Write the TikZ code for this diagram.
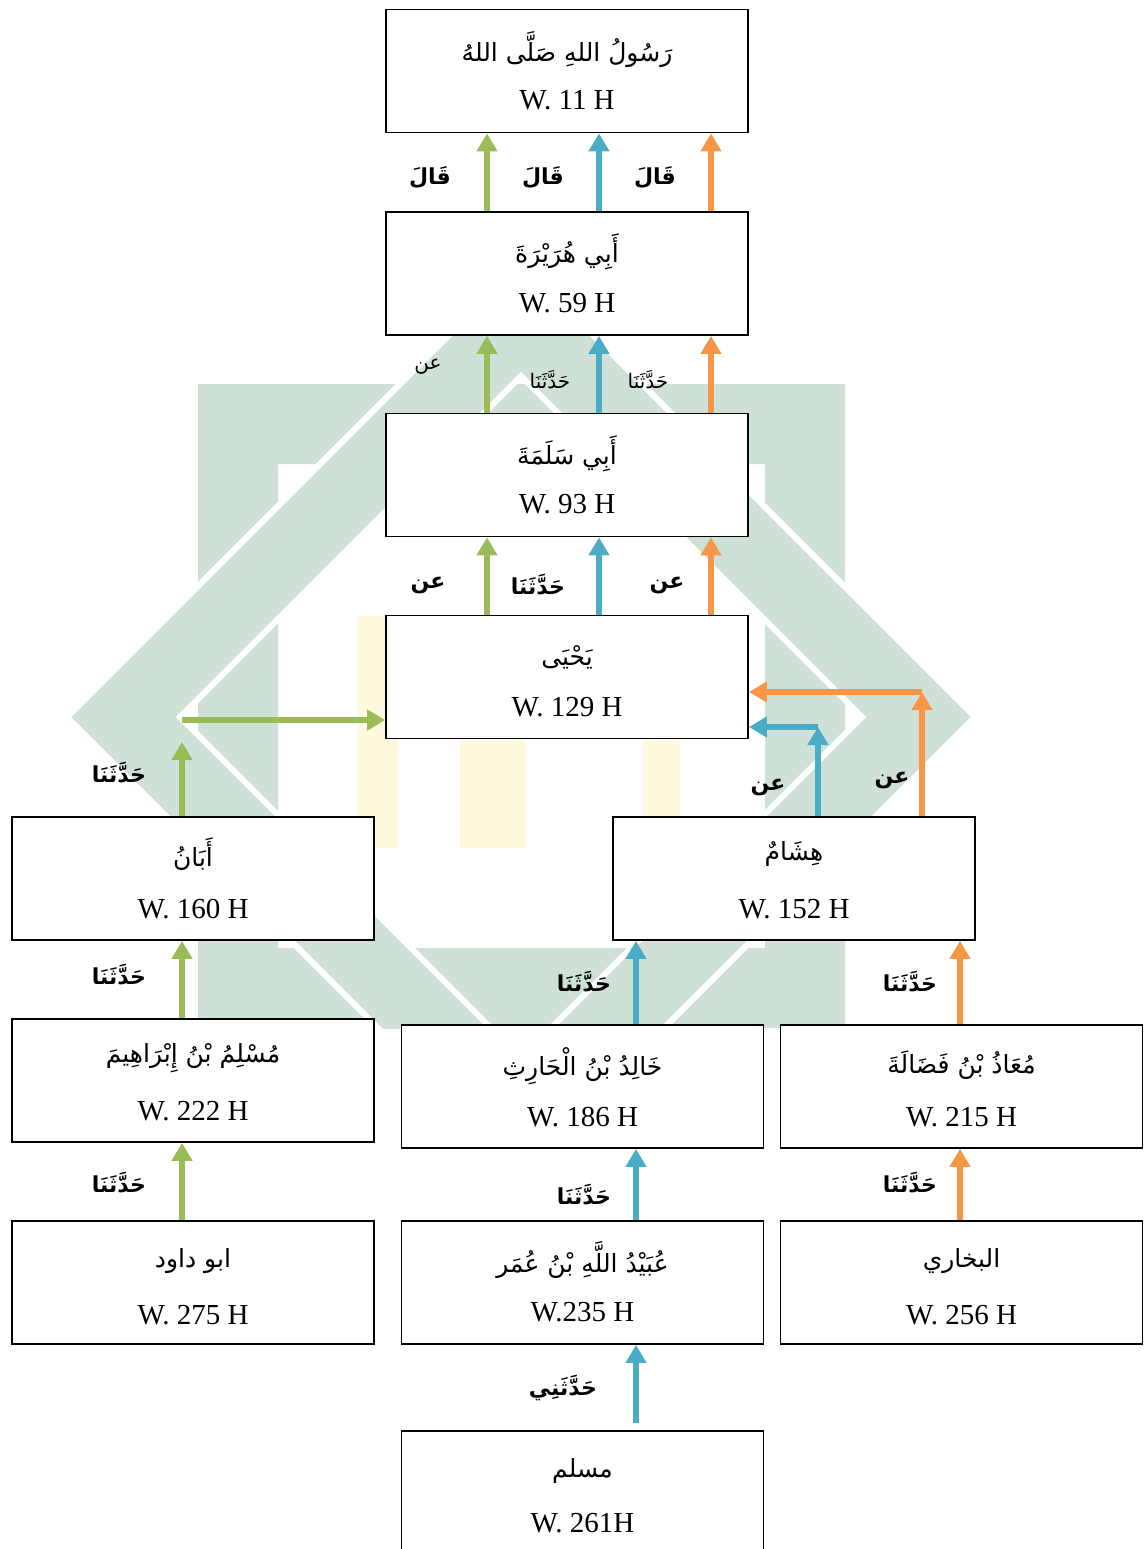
\documentclass[tikz,border=0pt]{standalone}
\usepackage{fontspec}
\setmainfont{Liberation Serif}
\newfontfamily\arabicfont[Script=Arabic]{DejaVu Sans}
\TeXXeTstate=1
\usetikzlibrary{arrows.meta,calc}
\definecolor{cgreen}{RGB}{155,187,89}
\definecolor{cblue}{RGB}{75,172,198}
\definecolor{corange}{RGB}{247,150,70}
\definecolor{wmgreen}{RGB}{207,225,215}
\definecolor{wmyellow}{RGB}{255,250,222}
\newcommand{\artxt}[1]{{\arabicfont\beginR #1\endR}}
\newcommand{\arbold}[1]{{\arabicfont\bfseries\beginR #1\endR}}
\begin{document}
\begin{tikzpicture}[x=1pt,y=-1pt,
  namebox/.style={draw=black,line width=1.8pt,minimum width=362pt,minimum height=123pt,inner sep=0pt,fill=white},
  arname/.style={inner sep=0pt,font=\fontsize{25}{30}\selectfont},
  wname/.style={inner sep=0pt,font=\fontsize{29}{34}\selectfont},
  blab/.style={inner sep=0pt,font=\fontsize{22}{26}\selectfont},
  slab/.style={inner sep=0pt,font=\fontsize{20}{24}\selectfont},
  arrbase/.style={line width=6pt,-{Triangle[width=20pt,length=18pt]}},
  garr/.style={arrbase,draw=cgreen},
  barr/.style={arrbase,draw=cblue},
  oarr/.style={arrbase,draw=corange}]
\useasboundingbox (0,0) rectangle (1145,1549);
\clip (0,0) rectangle (1145,1549);
% watermark
\begin{scope}
  \clip (0,330) rectangle (1145,1028);
  \fill[wmgreen,even odd rule] (198,384) rectangle (845,1028) (278,464) rectangle (765,948);
  \filldraw[fill=wmgreen,draw=white,line width=6pt,even odd rule]
    (67,717) -- (521,263) -- (975,717) -- (521,1171) -- cycle
    (180,717) -- (521,376) -- (862,717) -- (521,1058) -- cycle;
  \fill[wmyellow] (358,616) rectangle (398,848);
  \fill[wmyellow] (460,740) rectangle (526,848);
  \fill[wmyellow] (643,740) rectangle (680,848);
\end{scope}
% boxes
\node[namebox] (b1) at (567,71) {};
\node[namebox] (b2) at (567,273.5) {};
\node[namebox] (b3) at (567,475) {};
\node[namebox] (b4) at (567,677) {};
\node[namebox] (b5) at (193,878.5) {};
\node[namebox] (b6) at (794,878.5) {};
\node[namebox] (b7) at (193,1080.5) {};
\node[namebox] (b8) at (582.5,1086.5) {};
\node[namebox] (b9) at (961.5,1086.5) {};
\node[namebox] (b10) at (193,1282.5) {};
\node[namebox] (b11) at (582.5,1282.5) {};
\node[namebox] (b12) at (961.5,1282.5) {};
\node[namebox,minimum height=124pt] (b13) at (582.5,1493) {};
% names
\node[arname] (t1a) at ($(b1.north)+(0,41)$) {\artxt{رَسُولُ اللهِ صَلَّى اللهُ}};
\node[wname] (t1w) at ($(b1.north)+(0,92)$) {W. 11 H};
\node[arname] (t2a) at ($(b2.north)+(0,41)$) {\artxt{أَبِي هُرَيْرَةَ}};
\node[wname] (t2w) at ($(b2.north)+(0,92)$) {W. 59 H};
\node[arname] (t3a) at ($(b3.north)+(0,41)$) {\artxt{أَبِي سَلَمَةَ}};
\node[wname] (t3w) at ($(b3.north)+(0,92)$) {W. 93 H};
\node[arname] (t4a) at ($(b4.north)+(0,43)$) {\artxt{يَحْيَى}};
\node[wname] (t4w) at ($(b4.north)+(0,93)$) {W. 129 H};
\node[arname] (t5a) at ($(b5.north)+(0,38)$) {\artxt{أَبَانُ}};
\node[wname] (t5w) at ($(b5.north)+(0,93)$) {W. 160 H};
\node[arname] (t6a) at ($(b6.north)+(0,38)$) {\artxt{هِشَامٌ}};
\node[wname] (t6w) at ($(b6.north)+(0,93)$) {W. 152 H};
\node[arname] (t7a) at ($(b7.north)+(0,40)$) {\artxt{مُسْلِمُ بْنُ إِبْرَاهِيمَ}};
\node[wname] (t7w) at ($(b7.north)+(0,93)$) {W. 222 H};
\node[arname] (t8a) at ($(b8.north)+(0,42)$) {\artxt{خَالِدُ بْنُ الْحَارِثِ}};
\node[wname] (t8w) at ($(b8.north)+(0,93)$) {W. 186 H};
\node[arname] (t9a) at ($(b9.north)+(0,41)$) {\artxt{مُعَاذُ بْنُ فَضَالَةَ}};
\node[wname] (t9w) at ($(b9.north)+(0,93)$) {W. 215 H};
\node[arname] (t10a) at ($(b10.north)+(0,41)$) {\artxt{ابو داود}};
\node[wname] (t10w) at ($(b10.north)+(0,95)$) {W. 275 H};
\node[arname] (t11a) at ($(b11.north)+(0,40)$) {\artxt{عُبَيْدُ اللَّهِ بْنُ عُمَر}};
\node[wname] (t11w) at ($(b11.north)+(0,92)$) {W.235 H};
\node[arname] (t12a) at ($(b12.north)+(0,41)$) {\artxt{البخاري}};
\node[wname] (t12w) at ($(b12.north)+(0,95)$) {W. 256 H};
\node[arname] (t13a) at ($(b13.north)+(0,41)$) {\artxt{مسلم}};
\node[wname] (t13w) at ($(b13.north)+(0,93)$) {W. 261H};
% arrow columns
\coordinate (gx) at (487,0);
\coordinate (bx) at (599,0);
\coordinate (ox) at (711,0);
\coordinate (lx) at (182,0);
\coordinate (mx) at (636,0);
\coordinate (rx) at (960,0);
\foreach \lo/\hi in {b2/b1,b3/b2,b4/b3}{
  \draw[garr] (\lo.north -| gx) -- (\hi.south -| gx);
  \draw[barr] (\lo.north -| bx) -- (\hi.south -| bx);
  \draw[oarr] (\lo.north -| ox) -- (\hi.south -| ox);
}
% Aban -> Yahya
\coordinate (ga) at (182,742);
\coordinate (gb) at (182,720);
\draw[garr] (b5.north -| lx) -- (ga);
\draw[garr] (gb) -- (b4.west |- gb);
% Hisyam -> Yahya
\coordinate (cb) at (818,727);
\coordinate (co) at (922,692);
\draw[barr] (b6.north -| cb) -- (cb);
\draw[barr] (cb) -- (b4.east |- cb);
\draw[oarr] (b6.north -| co) -- (co);
\draw[oarr] (co) -- (b4.east |- co);
% lower chains
\draw[garr] (b7.north -| lx) -- (b5.south -| lx);
\draw[garr] (b10.north -| lx) -- (b7.south -| lx);
\draw[barr] (b8.north -| mx) -- (b6.south -| mx);
\draw[barr] (b11.north -| mx) -- (b8.south -| mx);
\draw[barr] ($(b13.north -| mx)+(0,-7)$) -- (b11.south -| mx);
\draw[oarr] (b9.north -| rx) -- (b6.south -| rx);
\draw[oarr] (b12.north -| rx) -- (b9.south -| rx);
% labels
\node[blab] (l1) at (430,178) {\arbold{قَالَ}};
\node[blab] (l2) at (543,178) {\arbold{قَالَ}};
\node[blab] (l3) at (655,178) {\arbold{قَالَ}};
\node[slab] (l4) at (428,367) {\artxt{عن}};
\node[slab] (l5) at (550,380) {\artxt{حَدَّثَنَا}};
\node[slab] (l6) at (648,380) {\artxt{حَدَّثَنَا}};
\node[blab] (l7) at (428,585) {\arbold{عن}};
\node[blab] (l8) at (538,585) {\arbold{حَدَّثَنَا}};
\node[blab] (l9) at (667,585) {\arbold{عن}};
\node[blab] (l10) at (119,773) {\arbold{حَدَّثَنَا}};
\node[blab] (l11) at (768,787) {\arbold{عن}};
\node[blab] (l12) at (892,780) {\arbold{عن}};
\node[blab] (l13) at (119,975) {\arbold{حَدَّثَنَا}};
\node[blab] (l14) at (584,982) {\arbold{حَدَّثَنَا}};
\node[blab] (l15) at (910,982) {\arbold{حَدَّثَنَا}};
\node[blab] (l16) at (119,1183) {\arbold{حَدَّثَنَا}};
\node[blab] (l17) at (584,1195) {\arbold{حَدَّثَنَا}};
\node[blab] (l18) at (910,1183) {\arbold{حَدَّثَنَا}};
\node[blab] (l19) at (563,1388) {\arbold{حَدَّثَنِي}};
\end{tikzpicture}
\end{document}
